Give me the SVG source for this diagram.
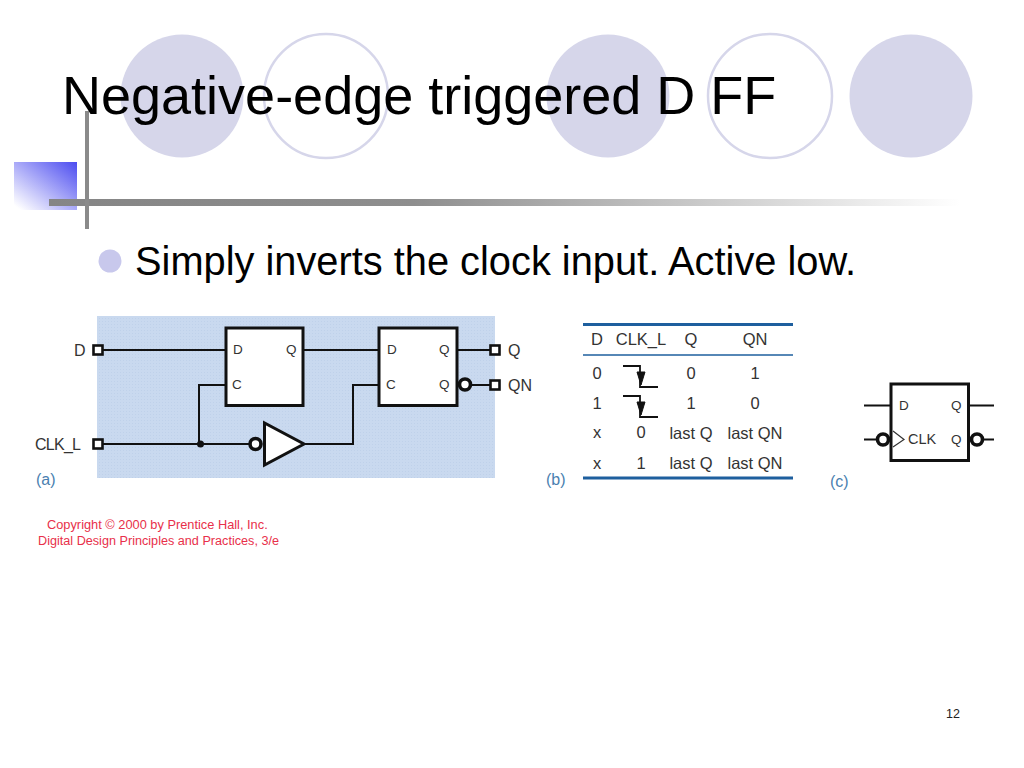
<svg xmlns="http://www.w3.org/2000/svg" width="1024" height="768" viewBox="0 0 1024 768">
<style>
text{font-family:"Liberation Sans",Arial,sans-serif;fill:#222}
.w{stroke:#111;stroke-width:2;fill:none}
.ff{stroke:#111;stroke-width:3;fill:#fff}
.t{stroke:#111;stroke-width:2.6;fill:#fff}
.b{stroke:#111;stroke-width:3.6;fill:#fff}
.s{font-size:13.500px;fill:#333}
.l{font-size:16px;fill:#333}
.m{font-size:16.500px;fill:#333;text-anchor:middle}
.c{font-size:16px;fill:#4a7fb0}
.r{font-size:12.800px;fill:#e8304a}
.th{stroke:#1e5f9e;fill:none}
.ci{fill:#d6d6ea}
.co{fill:#fff;stroke:#d6d6ea;stroke-width:2.5}
</style>
<defs>
<linearGradient id="sq" x1="0" y1="1" x2="1" y2="0"><stop offset="0.05" stop-color="#fff"/><stop offset="1" stop-color="#4c4cf0"/></linearGradient>
<linearGradient id="hl" x1="0" y1="0" x2="1" y2="0"><stop offset="0" stop-color="#858585"/><stop offset="0.4" stop-color="#8e8e8e"/><stop offset="1" stop-color="#fff"/></linearGradient>
<pattern id="dots" width="3" height="3" patternUnits="userSpaceOnUse"><rect width="3" height="3" fill="#c9d9ef"/><rect width="1" height="1" fill="#bfd1ea"/></pattern>
</defs>
<rect width="1024" height="768" fill="#fff"/>
<g id="decor">
<circle class="ci" cx="182" cy="96" r="61.500"/>
<circle class="co" cx="326" cy="96" r="62"/>
<circle class="ci" cx="608" cy="96" r="61.500"/>
<circle class="co" cx="770" cy="96" r="62"/>
<circle class="ci" cx="911" cy="96" r="61.500"/>
<rect x="14" y="162" width="63" height="48" fill="url(#sq)"/>
<rect x="49" y="199" width="911" height="7" fill="url(#hl)"/>
<rect x="85" y="111" width="4" height="118" fill="#8a8a8a"/>
</g>
<text id="title" x="62" y="114" font-size="54" style="fill:#000">Negative-edge triggered D FF</text>
<g id="bullet">
<circle cx="110" cy="261" r="11.500" fill="#c8c8ec"/>
<text x="135" y="275" font-size="39.800" style="fill:#000">Simply inverts the clock input. Active low.</text>
</g>
<rect id="panel" x="97" y="316" width="398" height="162" fill="url(#dots)"/>
<g id="connectors">
<path class="w" d="M102 350H226M303 350H379M457 350H490M472 385H490M226 385H199V444M102 444H249M304 444H353V385H379"/>
<path class="w" d="M864 405.500H891M969 405.500H994M864 439.500H876M984 439.500H994"/>
</g>
<g id="term-d"><rect class="t" x="93.500" y="345.500" width="9" height="9"/><text class="l" x="74" y="355.500">D</text></g>
<g id="term-clk"><rect class="t" x="93.500" y="439.500" width="9" height="9"/><text class="l" x="35" y="449.500" textLength="46">CLK_L</text></g>
<g id="term-q"><rect class="t" x="490.500" y="345.500" width="9" height="9"/><text class="l" x="508" y="355.500">Q</text></g>
<g id="term-qn"><rect class="t" x="490.500" y="380.500" width="9" height="9"/><text class="l" x="508" y="390.500">QN</text></g>
<g id="ff1"><rect class="ff" x="226" y="328" width="77" height="77.500"/><text class="s" x="233" y="354">D</text><text class="s" x="286" y="354">Q</text><text class="s" x="232" y="389">C</text></g>
<g id="ff2"><rect class="ff" x="379" y="328" width="78" height="77.500"/><text class="s" x="387" y="354">D</text><text class="s" x="439" y="354">Q</text><text class="s" x="386" y="389">C</text><text class="s" x="439" y="389">Q</text><circle class="b" cx="465" cy="384.500" r="5.500"/></g>
<g id="junction"><circle cx="200.500" cy="444" r="3.500" fill="#111"/></g>
<g id="inverter"><circle class="b" cx="255.500" cy="444" r="5.500"/><path class="ff" d="M264.500 423V465L304 444Z"/></g>
<text class="c" x="36" y="485">(a)</text>
<g id="copyright">
<text class="r" x="47" y="529">Copyright © 2000 by Prentice Hall, Inc.</text>
<text class="r" x="38" y="545" style="font-size:12.650px">Digital Design Principles and Practices, 3/e</text>
</g>
<g id="table">
<path class="th" stroke-width="3" d="M583 324.500H793M583 478H793"/>
<path class="th" stroke-width="1.500" d="M583 355H793"/>
<text class="m" x="597" y="345">D</text><text class="m" x="641" y="345">CLK_L</text><text class="m" x="691" y="345">Q</text><text class="m" x="755" y="345">QN</text>
<text class="m" x="597" y="379">0</text><text class="m" x="691" y="379">0</text><text class="m" x="755" y="379">1</text>
<text class="m" x="597" y="409">1</text><text class="m" x="691" y="409">1</text><text class="m" x="755" y="409">0</text>
<text class="m" x="597" y="438">x</text><text class="m" x="641" y="438">0</text><text class="m" x="691" y="439">last Q</text><text class="m" x="755" y="439">last QN</text>
<text class="m" x="597" y="469">x</text><text class="m" x="641" y="469">1</text><text class="m" x="691" y="469">last Q</text><text class="m" x="755" y="469">last QN</text>
<path d="M623 366H640V387H658M623 396H640V417H658" fill="none" stroke="#111" stroke-width="1.800"/>
<path d="M637 372H645L641 385ZM637 402H645L641 415Z" fill="#111" stroke="#111"/>
</g>
<text class="c" x="546" y="485">(b)</text>
<g id="ff-symbol">
<rect class="ff" x="891" y="384" width="77.500" height="76.500"/>
<text class="s" x="899" y="410">D</text><text class="s" x="951" y="410">Q</text><text class="s" x="908" y="444" style="font-size:14.500px">CLK</text><text class="s" x="951" y="444">Q</text>
<path d="M893 431L904 439.500L893 447" fill="none" stroke="#333" stroke-width="1.200"/>
<circle class="b" cx="883" cy="439.500" r="5.500"/><circle class="b" cx="977" cy="439.500" r="5.500"/>
</g>
<text class="c" x="830" y="487">(c)</text>
<text id="page" x="946" y="718" font-size="12.500" style="fill:#222">12</text>
</svg>
